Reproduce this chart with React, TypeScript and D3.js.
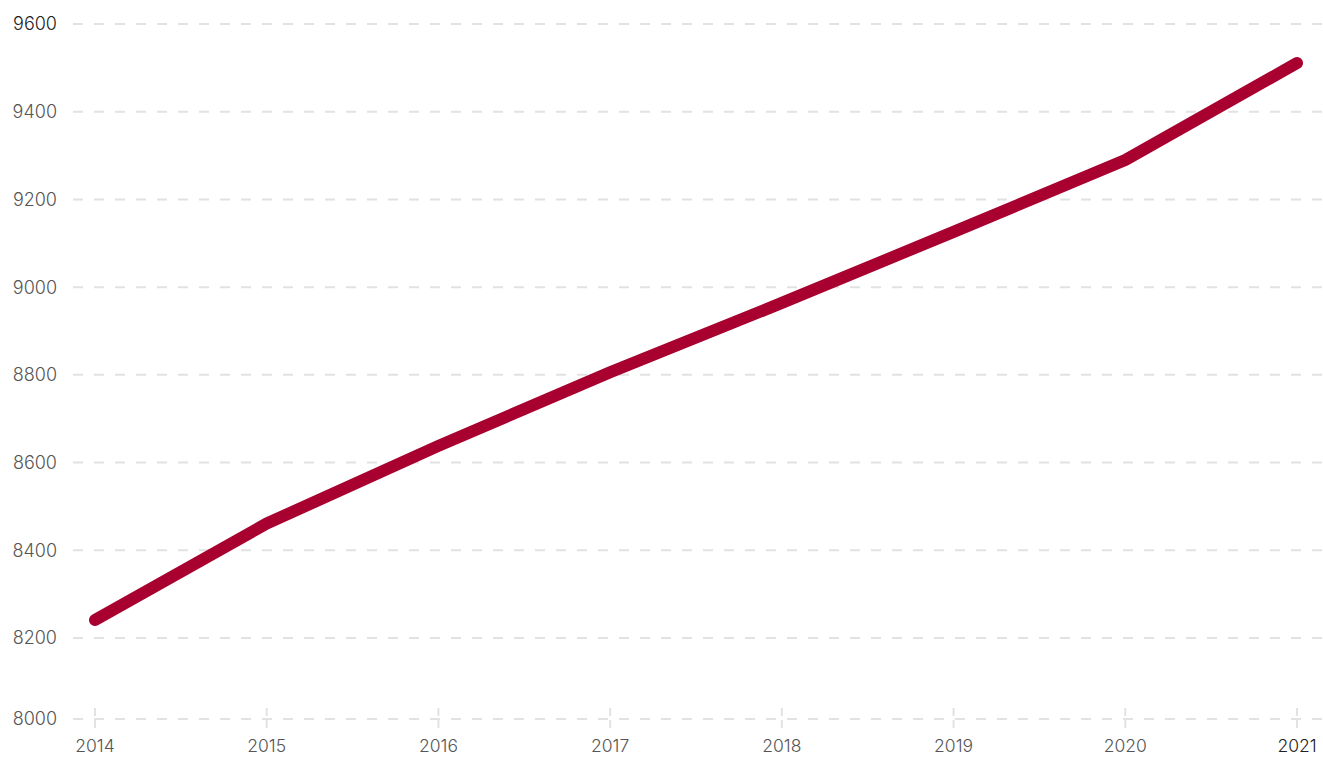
import React from "react";
import * as d3 from "d3";

const years = [2014, 2015, 2016, 2017, 2018, 2019, 2020, 2021];
const values = [8241, 8461, 8638, 8806, 8964, 9126, 9290, 9511];
const yTicks = [8000, 8200, 8400, 8600, 8800, 9000, 9200, 9400, 9600];

const W = 1323;
const H = 757;

export default function App() {
  const x = d3.scaleLinear().domain([2014, 2021]).range([95, 1297]);
  const y = d3.scaleLinear().domain([8000, 8200, 9600]).range([719, 638, 24]);
  const line = d3
    .line<number>()
    .x((_, i) => x(years[i]))
    .y((d) => y(d));
  const font = "Inter, 'Noto Sans', sans-serif";
  return (
    <svg
      width={W}
      height={H}
      style={{ position: "absolute", left: 0, top: 0, background: "#fff" }}
    >
      {yTicks.map((t) => (
        <g key={t}>
          <line
            x1={73}
            x2={W}
            y1={y(t)}
            y2={y(t)}
            stroke="#e2e2e2"
            strokeWidth={2}
            strokeDasharray="10 11"
          />
          <text
            x={57}
            y={y(t)}
            dy="0.36em"
            textAnchor="end"
            fontFamily={font}
            fontWeight={300}
            fontSize={18}
            fill={t === 9600 ? "#222" : "#555"}
          >
            {t}
          </text>
        </g>
      ))}
      {years.map((yr) => (
        <g key={yr}>
          <line
            x1={x(yr)}
            x2={x(yr)}
            y1={708}
            y2={731}
            stroke="#e2e2e2"
            strokeWidth={2}
            strokeDasharray="8 4"
          />
          <text
            x={x(yr)}
            y={752}
            textAnchor="middle"
            fontFamily={font}
            fontWeight={300}
            fontSize={17.5}
            fill={yr === 2021 ? "#222" : "#555"}
          >
            {yr}
          </text>
        </g>
      ))}
      <path
        d={line(values) || ""}
        fill="none"
        stroke="#a8002f"
        strokeWidth={12}
        strokeLinecap="round"
        strokeLinejoin="round"
      />
    </svg>
  );
}
